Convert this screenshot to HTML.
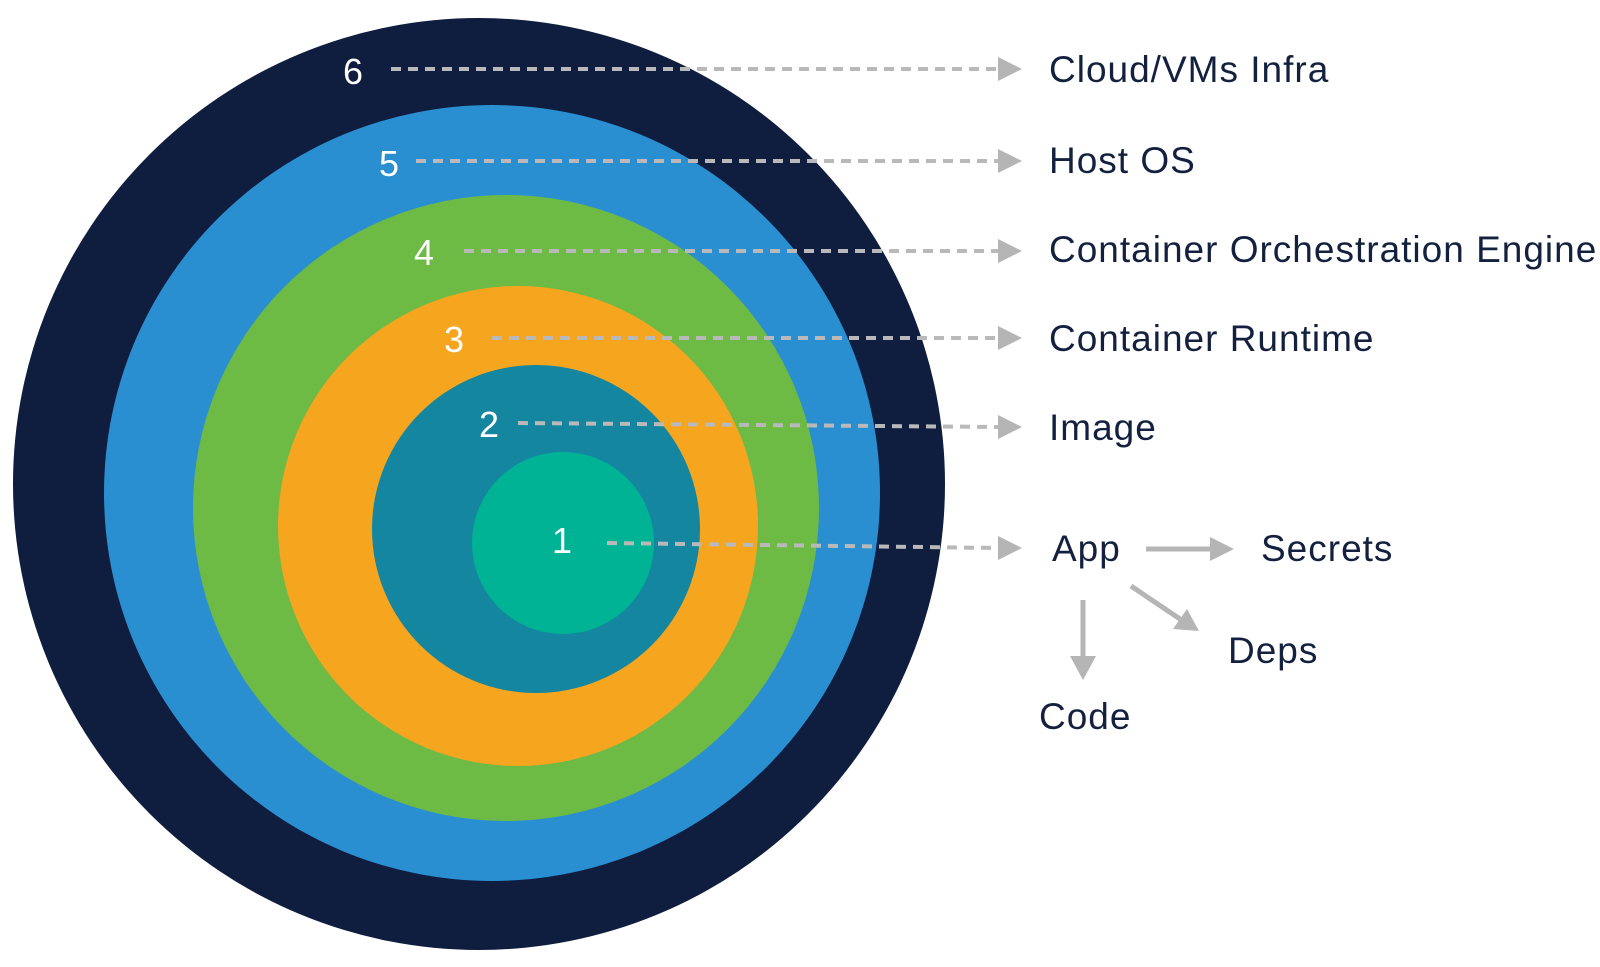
<!DOCTYPE html>
<html><head><style>html,body{margin:0;padding:0;background:#fff;width:1600px;height:967px;overflow:hidden}</style></head>
<body>
<svg width="1600" height="967" viewBox="0 0 1600 967" xmlns="http://www.w3.org/2000/svg">
<circle cx="479" cy="484" r="466" fill="#0f1d3f"/>
<circle cx="492" cy="493" r="388" fill="#2a8fd0"/>
<circle cx="506" cy="508" r="313" fill="#6dbb45"/>
<circle cx="518" cy="526" r="240" fill="#f6a51f"/>
<circle cx="536" cy="529" r="164" fill="#14869f"/>
<circle cx="563" cy="543" r="91" fill="#00b394"/>
<g stroke="#b9b9b9" stroke-width="4" stroke-dasharray="10,7" fill="none">
<line x1="391" y1="69" x2="998" y2="69"/>
<line x1="416" y1="161" x2="998" y2="161"/>
<line x1="464" y1="251" x2="998" y2="251"/>
<line x1="492" y1="338" x2="998" y2="338"/>
<line x1="518" y1="423" x2="998" y2="427"/>
<line x1="607" y1="543" x2="998" y2="548"/>
</g>
<g fill="#b5b5b5">
<path d="M998,57 L1022,69 L998,81Z"/>
<path d="M998,149 L1022,161 L998,173Z"/>
<path d="M998,239 L1022,251 L998,263Z"/>
<path d="M998,326 L1022,338 L998,350Z"/>
<path d="M998,415 L1022,427 L998,439Z"/>
<path d="M998,536 L1022,548 L998,560Z"/>
</g>
<g stroke="#b5b5b5" stroke-width="5" fill="none">
<line x1="1146" y1="549" x2="1210" y2="549"/>
<line x1="1083" y1="600" x2="1083" y2="656"/>
<line x1="1131" y1="586" x2="1180" y2="619"/>
</g>
<g fill="#b5b5b5">
<path d="M1210,537 L1234,549 L1210,561Z"/>
<path d="M1070,656 L1083,680 L1096,656Z"/>
<path d="M1173,629 L1199,631 L1187,609Z"/>
</g>
<g font-family="Liberation Sans, sans-serif" font-size="36" fill="#fff" text-anchor="middle">
<text x="353" y="84">6</text>
<text x="389" y="176">5</text>
<text x="424" y="265">4</text>
<text x="454" y="352">3</text>
<text x="489" y="437">2</text>
<text x="562" y="553">1</text>
</g>
<g font-family="Liberation Sans, sans-serif" font-size="37" fill="#13213f" letter-spacing="1">
<text x="1049" y="82">Cloud/VMs Infra</text>
<text x="1049" y="173">Host OS</text>
<text x="1049" y="262">Container Orchestration Engine</text>
<text x="1049" y="351">Container Runtime</text>
<text x="1049" y="440">Image</text>
<text x="1052" y="561">App</text>
<text x="1261" y="561">Secrets</text>
<text x="1228" y="663">Deps</text>
<text x="1039" y="729">Code</text>
</g>
</svg>
</body></html>
